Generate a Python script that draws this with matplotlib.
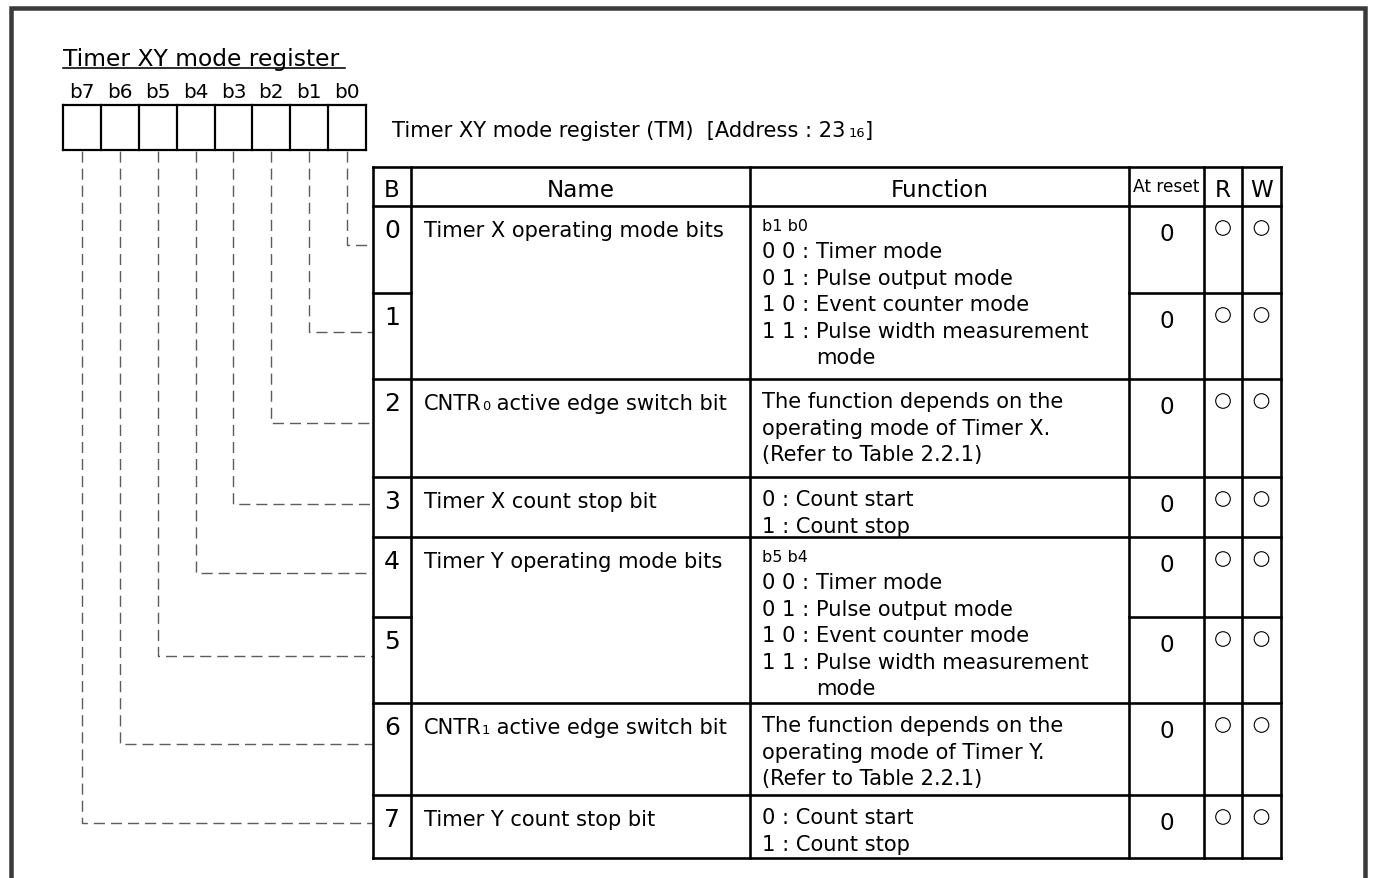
import matplotlib
matplotlib.use('Agg')
import matplotlib.pyplot as plt
from matplotlib.patches import Circle

plt.rcParams['font.family'] = 'DejaVu Sans'
plt.rcParams['lines.scale_dashes'] = False

PT = 0.72  # points per pixel at dpi 100

# ---- content ----
title = 'Timer XY mode register'
bit_labels = ['b7', 'b6', 'b5', 'b4', 'b3', 'b2', 'b1', 'b0']
reg_name = 'Timer XY mode register (TM)  [Address : 23'
reg_radix = '16'

headers = ['B', 'Name', 'Function', 'At reset', 'R', 'W']
bit_numbers = ['0', '1', '2', '3', '4', '5', '6', '7']
names = ['Timer X operating mode bits', None,
         ('CNTR', '0', ' active edge switch bit'),
         'Timer X count stop bit',
         'Timer Y operating mode bits', None,
         ('CNTR', '1', ' active edge switch bit'),
         'Timer Y count stop bit']
mode_codes = ['0 0', '0 1', '1 0', '1 1']
mode_names = ['Timer mode', 'Pulse output mode', 'Event counter mode',
              'Pulse width measurement\nmode']
edge_x = ['The function depends on the', 'operating mode of Timer X.',
          '(Refer to Table 2.2.1)']
edge_y = ['The function depends on the', 'operating mode of Timer Y.',
          '(Refer to Table 2.2.1)']
stop_text = ['0 : Count start', '1 : Count stop']
functions = [('mode', 'b1 b0'), None, ('text', edge_x), ('text', stop_text),
             ('mode', 'b5 b4'), None, ('text', edge_y), ('text', stop_text)]
reset_vals = ['0', '0', '0', '0', '0', '0', '0', '0']
readable = [1, 1, 1, 1, 1, 1, 1, 1]
writable = [1, 1, 1, 1, 1, 1, 1, 1]

# ---- layout (pixels) ----
W, H = 1373, 879
reg_x0, reg_x1, reg_y0, reg_y1 = 63, 366, 106, 151
tab_top = 168
row_edges = [207, 294, 380, 478, 538, 618, 704, 796, 859]
col_edges = [373, 411, 750, 1129, 1204, 1242, 1281]
merged = [True, False, True, True, True, False, True, True]   # top of merged name/function cell

fig = plt.figure(figsize=(W / 100, H / 100), dpi=100)
ax = fig.add_axes([0, 0, 1, 1])
ax.set_xlim(0, W)
ax.set_ylim(H, 0)
ax.axis('off')
renderer = fig.canvas.get_renderer()

BODY = 21 * PT
LW = 2.6 * PT


def runs(x, y, parts):
    for s, size, dy in parts:
        t = ax.text(x, y + dy, s, fontsize=size, va='baseline', ha='left', color='black')
        x += t.get_window_extent(renderer).width
    return x


def hline(x0, x1, y, lw=LW, **kw):
    ax.plot([x0, x1], [y, y], color='black', lw=lw, solid_capstyle='projecting', **kw)


def vline(x, y0, y1, lw=LW, **kw):
    ax.plot([x, x], [y0, y1], color='black', lw=lw, solid_capstyle='projecting', **kw)


# outer frame
frame_c = '#3a3a3a'
ax.plot([10.5, 10.5, 1365, 1365], [H + 5, 8.5, 8.5, H + 5], color=frame_c, lw=4.5 * PT,
        solid_joinstyle='miter')

# title with underline
ax.text(reg_x0, 66, title, fontsize=23.4 * PT, va='baseline', ha='left')
hline(reg_x0, 345, 68.5, lw=1.6 * PT)

# register boxes
bw = (reg_x1 - reg_x0) / 8
for i, lab in enumerate(bit_labels):
    cx = reg_x0 + (i + 0.5) * bw
    ax.text(cx, 98, lab, fontsize=20 * PT, ha='center', va='baseline')
hline(reg_x0, reg_x1, reg_y0, lw=2.2 * PT)
hline(reg_x0, reg_x1, reg_y1, lw=2.2 * PT)
for i in range(9):
    vline(reg_x0 + i * bw, reg_y0, reg_y1, lw=2.2 * PT)

# register caption
xe = runs(392, 137, [(reg_name, BODY, 0)])
runs(xe + 3, 137, [(reg_radix, 13 * PT, 0), (']', BODY, 0)])

# leader lines
for b in range(8):
    cx = reg_x0 + (7 - b + 0.5) * bw
    top, bot = row_edges[b], row_edges[b + 1]
    ly = top + 0.45 * (bot - top)
    ax.plot([cx, cx, col_edges[0]], [reg_y1 + 1, ly, ly], color='#5c5c5c', lw=1.4 * PT,
            linestyle=(0, (8, 4.3)))

# table grid
tab_bot = row_edges[-1]
hline(col_edges[0], col_edges[-1], tab_top)
hline(col_edges[0], col_edges[-1], row_edges[0])
for k in range(1, len(row_edges)):
    y = row_edges[k]
    if k < 8 and not merged[k]:
        hline(col_edges[0], col_edges[1], y)
        hline(col_edges[3], col_edges[-1], y)
    else:
        hline(col_edges[0], col_edges[-1], y)
for x in col_edges:
    vline(x, tab_top, tab_bot)

# header row
hdr_size = 23 * PT
centers = [(col_edges[i] + col_edges[i + 1]) / 2 for i in range(6)]
for i, h in enumerate(headers):
    if h == 'At reset':
        ax.text(centers[i], 192, h, fontsize=17 * PT, ha='center', va='baseline')
    else:
        ax.text(centers[i], 197, h, fontsize=hdr_size, ha='center', va='baseline')

# rows
fx = 762
for b in range(8):
    top = row_edges[b]
    ax.text(centers[0], top + 31, bit_numbers[b], fontsize=25 * PT, ha='center', va='baseline')
    ax.text(centers[3], top + 34, reset_vals[b], fontsize=23 * PT, ha='center', va='baseline')
    for flag, cx in ((readable[b], centers[4]), (writable[b], centers[5])):
        if flag:
            ax.add_patch(Circle((cx, top + 22), 7.3, fill=False, ec='black', lw=1.1 * PT))

    nm = names[b]
    if nm is not None:
        if isinstance(nm, tuple):
            runs(424, top + 30, [(nm[0], BODY, 0), (nm[1], 13 * PT, 0), (nm[2], BODY, 0)])
        else:
            ax.text(424, top + 30, nm, fontsize=BODY, ha='left', va='baseline')

    fn = functions[b]
    if fn is None:
        continue
    kind, content = fn
    if kind == 'mode':
        ax.text(fx, top + 24, content, fontsize=16 * PT, ha='left', va='baseline')
        y = top + 51
        for code, desc in zip(mode_codes, mode_names):
            xd = runs(fx, y, [(code + ' : ', BODY, 0)])
            parts = desc.split('\n')
            for j, part in enumerate(parts):
                ax.text(xd, y, part, fontsize=BODY, ha='left', va='baseline')
                if j < len(parts) - 1:
                    y += 26.6
            y += 26.6
    else:
        for j, line in enumerate(content):
            ax.text(fx, top + 28.5 + j * 26.5, line, fontsize=BODY, ha='left', va='baseline')

fig.savefig('out.png', dpi=100)
